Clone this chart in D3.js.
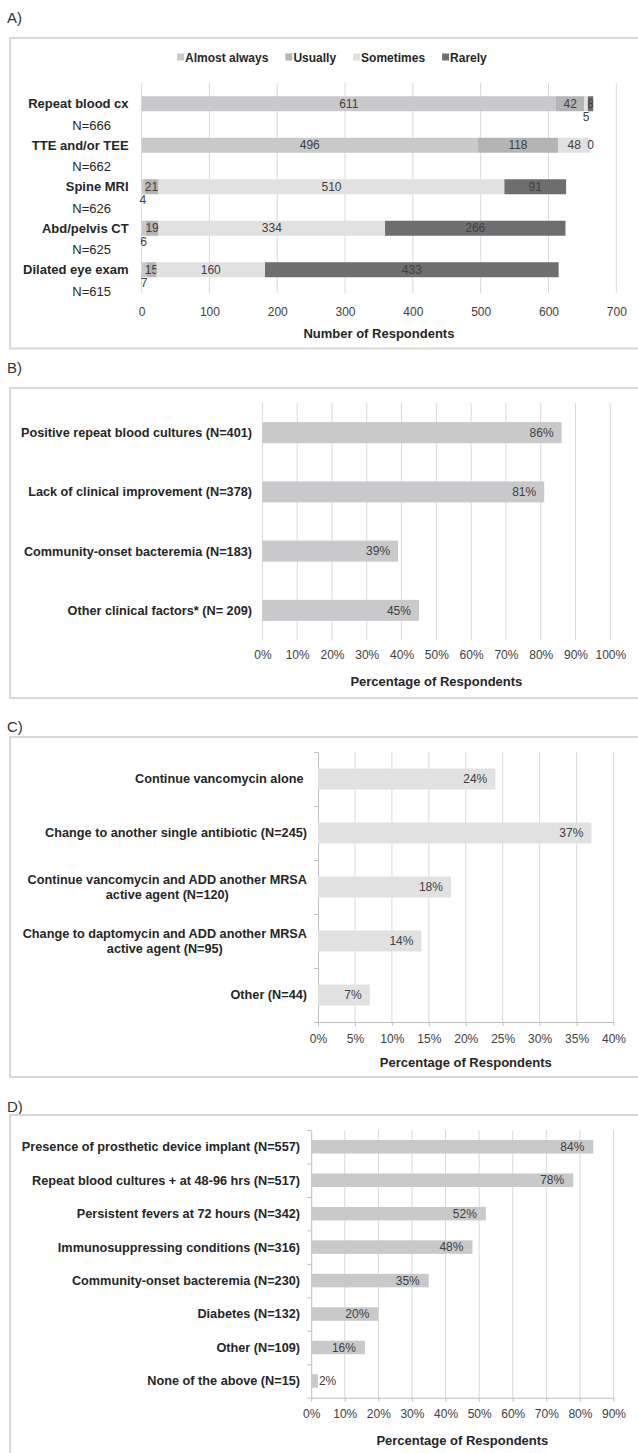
<!DOCTYPE html>
<meta charset="utf-8">
<html>
<script src="https://d3js.org/d3.v7.min.js"></script>
<style>
  body { margin: 0; background: #fff; }
  text { font-family: "Liberation Sans", Arial, sans-serif; }
  .panel-tag { font-size: 15px; fill: #333; }
  .cat { font-size: 12.7px; font-weight: bold; fill: #262626; }
  .tick text { font-size: 12px; fill: #404040; }
  .ttl { font-size: 13px; font-weight: bold; fill: #262626; }
  .val { font-size: 12px; fill: #404040; }
</style>
<body>
<div id="chart"></div>
<script>

// ---- data ----
// A) frequency of ordering each test
const aCats = ["Repeat blood cx", "TTE and/or TEE", "Spine MRI", "Abd/pelvis CT", "Dilated eye exam"];
const aN = ["N=666", "N=662", "N=626", "N=625", "N=615"];
const aSeries = ["Almost always", "Usually", "Sometimes", "Rarely"];
const almostAlways = [611, 496, 4, 6, 7];
const usually = [42, 118, 21, 19, 15];
const sometimes = [5, 48, 510, 334, 160];
const rarely = [8, 0, 91, 266, 433];
const aTicks = [0, 100, 200, 300, 400, 500, 600, 700];

// B)
const bCats = ["Positive repeat blood cultures (N=401)", "Lack of clinical improvement (N=378)",
  "Community-onset bacteremia (N=183)", "Other clinical factors* (N= 209)"];
const bValues = [0.86, 0.81, 0.39, 0.45];
const bTicks = [0, 0.1, 0.2, 0.3, 0.4, 0.5, 0.6, 0.7, 0.8, 0.9, 1.0];

// C)
const cCats = [["Continue vancomycin alone "], ["Change to another single antibiotic (N=245)"],
  ["Continue vancomycin and ADD another MRSA", "active agent (N=120)"],
  ["Change to daptomycin and ADD another MRSA", "active agent (N=95)"], ["Other (N=44)"]];
const cValues = [0.24, 0.37, 0.18, 0.14, 0.07];
const cTicks = [0, 0.05, 0.1, 0.15, 0.2, 0.25, 0.3, 0.35, 0.4];

// D)
const dCats = ["Presence of prosthetic device implant (N=557)", "Repeat blood cultures + at 48-96 hrs (N=517)",
  "Persistent fevers at 72 hours (N=342)", "Immunosuppressing conditions (N=316)",
  "Community-onset bacteremia (N=230)", "Diabetes (N=132)", "Other (N=109)", "None of the above (N=15)"];
const dValues = [0.84, 0.78, 0.52, 0.48, 0.35, 0.20, 0.16, 0.02];
const dTicks = [0, 0.1, 0.2, 0.3, 0.4, 0.5, 0.6, 0.7, 0.8, 0.9];

const aColors = ["#c9c9cb", "#b4b4b6", "#e1e1e2", "#6e6e70"];
const gridCol = "#d9d9d9", axisCol = "#bfbfbf", boxCol = "#d9d9d9";
const pct = d3.format(".0%");

const svg = d3.select("#chart").append("svg")
  .attr("width", 638).attr("height", 1453);

function frame(tag, tagY, boxTop, boxBottom) {
  svg.append("text").attr("class", "panel-tag").attr("x", 7).attr("y", tagY).text(tag);
  svg.append("rect").attr("x", 10).attr("y", boxTop)
    .attr("width", 700).attr("height", boxBottom - boxTop)
    .attr("fill", "none").attr("stroke", boxCol).attr("stroke-width", 2);
}

function grid(x, ticks, y0, y1, skipZero) {
  svg.append("g").selectAll("line")
    .data(skipZero ? ticks.slice(1) : ticks)
    .join("line")
      .attr("x1", d => x(d)).attr("x2", d => x(d))
      .attr("y1", y0).attr("y2", y1)
      .attr("stroke", gridCol);
}

function tickLabels(x, ticks, yPos, fmt, withLine) {
  const g = svg.append("g")
    .attr("transform", `translate(0, ${yPos})`)
    .call(d3.axisBottom(x).tickValues(ticks).tickFormat(fmt)
      .tickSize(withLine ? 4 : 0).tickPadding(withLine ? 8 : 10).tickSizeOuter(0));
  g.selectAll(".tick line").attr("stroke", axisCol);
  if (withLine) g.select(".domain").attr("stroke", axisCol);
  else g.select(".domain").remove();
  return g;
}

// ================= A =================
frame("A)", 23, 38, 348.5);

const xA = d3.scaleLinear().domain([0, 700]).range([141.6, 616.3]);
const yA = d3.scaleBand().domain(aCats).range([83, 290.5]);
const barA = 15;

grid(xA, aTicks, 83, 293, false);
tickLabels(xA, aTicks, 297, d3.format("d"), false);
svg.append("text").attr("class", "ttl").attr("text-anchor", "middle")
  .attr("x", (xA(0) + xA(700)) / 2).attr("y", 338).text("Number of Respondents");

// legend
let lx = 177;
aSeries.forEach((s, i) => {
  svg.append("rect").attr("x", lx).attr("y", 53.5).attr("width", 7).attr("height", 7).attr("fill", aColors[i]);
  const t = svg.append("text").attr("class", "cat").style("font-size", "12px")
    .attr("x", lx + 8).attr("y", 61.5).text(s);
  lx += 8 + t.node().getComputedTextLength() + 17;
});

const aRows = aCats.map((c, i) => ({
  cat: c, "Almost always": almostAlways[i], "Usually": usually[i],
  "Sometimes": sometimes[i], "Rarely": rarely[i]
}));
const stacked = d3.stack().keys(aSeries)(aRows);

const defs = svg.append("defs");
stacked.forEach((layer, li) => {
  layer.forEach((seg, ci) => {
    const x0 = xA(seg[0]), x1 = xA(seg[1]);
    const yTop = yA(seg.data.cat) + (yA.bandwidth() - barA) / 2;
    svg.append("rect").attr("x", x0).attr("y", yTop)
      .attr("width", x1 - x0).attr("height", barA).attr("fill", aColors[li]);
    const v = seg[1] - seg[0];
    const w = x1 - x0;
    const lbl = svg.append("text").attr("class", "val").attr("text-anchor", "middle")
      .attr("x", (x0 + x1) / 2).text(v);
    if (v > 0 && w < 5) {
      // too narrow: Excel drops the label just under the bar
      lbl.attr("y", yTop + barA + 6).attr("dy", "0.35em");
    } else {
      lbl.attr("y", yTop + barA / 2).attr("dy", "0.35em");
      if (li === 3) lbl.attr("fill", "#fff");
      if (v > 0 && w < 7) {
        const id = `clipA${li}${ci}`;
        defs.append("clipPath").attr("id", id).append("rect")
          .attr("x", x0).attr("y", yTop).attr("width", w).attr("height", barA);
        lbl.attr("clip-path", `url(#${id})`);
      }
    }
  });
});

aCats.forEach((c, i) => {
  const cy = yA(c) + yA.bandwidth() / 2;
  svg.append("text").attr("class", "cat").style("font-size", "13px")
    .attr("text-anchor", "end").attr("x", 128.6).attr("y", cy).attr("dy", "0.35em").text(c);
  svg.append("text").attr("class", "val").style("font-size", "13px").style("fill", "#262626")
    .attr("text-anchor", "end").attr("x", 111).attr("y", cy + 21.5).attr("dy", "0.35em").text(aN[i]);
});

// simple horizontal bar panel (B, C, D)
function barPanel(o) {
  const x = d3.scaleLinear().domain(o.domain).range(o.xRange);
  const y = d3.scaleBand().domain(d3.range(o.values.length)).range(o.yRange);
  const off = (y.bandwidth() - o.barH) / 2;

  grid(x, o.ticks, o.yRange[0], o.yRange[1], o.axes);
  tickLabels(x, o.ticks, o.yRange[1], pct, o.axes);
  if (o.axes) {
    // left axis with ticks between categories
    const yIdx = d3.scaleLinear().domain([0, o.values.length]).range(o.yRange);
    const g = svg.append("g").attr("transform", `translate(${o.xRange[0]}, 0)`)
      .call(d3.axisLeft(yIdx).tickValues(d3.range(o.values.length + 1)).tickFormat("").tickSize(4).tickSizeOuter(0));
    g.selectAll("line").attr("stroke", axisCol);
    g.select(".domain").attr("stroke", axisCol);
  }

  svg.append("g").selectAll("rect")
    .data(o.values)
    .join("rect")
      .attr("x", x(0))
      .attr("y", (d, i) => y(i) + off)
      .attr("width", d => x(d) - x(0))
      .attr("height", o.barH)
      .attr("fill", o.color);

  o.values.forEach((d, i) => {
    const t = svg.append("text").attr("class", "val")
      .attr("y", y(i) + y.bandwidth() / 2).attr("dy", "0.35em").text(pct(d));
    const tw = t.node().getComputedTextLength();
    if (x(d) - x(0) > tw + 12) t.attr("text-anchor", "end").attr("x", x(d) - o.inset);
    else t.attr("text-anchor", "start").attr("x", x(d) + 1);
  });

  o.cats.forEach((c, i) => {
    const lines = Array.isArray(c) ? c : [c];
    const cy = y(i) + y.bandwidth() / 2;
    if (lines.length === 1) {
      svg.append("text").attr("class", "cat").attr("text-anchor", "end")
        .style("white-space", "pre")
        .attr("x", o.labelX).attr("y", cy).attr("dy", "0.35em").text(lines[0]);
    } else {
      const tt = lines.map((l, k) => svg.append("text").attr("class", "cat")
        .attr("text-anchor", "middle")
        .attr("y", cy + (k - (lines.length - 1) / 2) * 15).attr("dy", "0.35em").text(l));
      const mw = d3.max(tt, t => t.node().getComputedTextLength());
      tt.forEach(t => t.attr("x", o.labelX - mw / 2));
    }
  });

  svg.append("text").attr("class", "ttl").attr("text-anchor", "middle")
    .attr("x", (o.xRange[0] + o.xRange[1]) / 2).attr("y", o.titleY).text("Percentage of Respondents");
}

// ================= B =================
frame("B)", 373, 388, 698);
barPanel({
  cats: bCats, values: bValues, ticks: bTicks, domain: [0, 1],
  xRange: [262.4, 610.3], yRange: [403, 640], barH: 21,
  color: "#c9c9cb", inset: 8, labelX: 252, titleY: 686, axes: false
});

// ================= C =================
frame("C)", 732, 737, 1077);
barPanel({
  cats: cCats, values: cValues, ticks: cTicks, domain: [0, 0.4],
  xRange: [318, 613.5], yRange: [752, 1022], barH: 21,
  color: "#e1e1e2", inset: 8, labelX: 307, titleY: 1067, axes: true
});

// ================= D =================
frame("D)", 1112, 1115, 1500);
barPanel({
  cats: dCats, values: dValues, ticks: dTicks, domain: [0, 0.9],
  xRange: [311.2, 613.5], yRange: [1130, 1397.7], barH: 13.5,
  color: "#c9c9cb", inset: 9, labelX: 300, titleY: 1445, axes: true
});

</script>
</body>
</html>
